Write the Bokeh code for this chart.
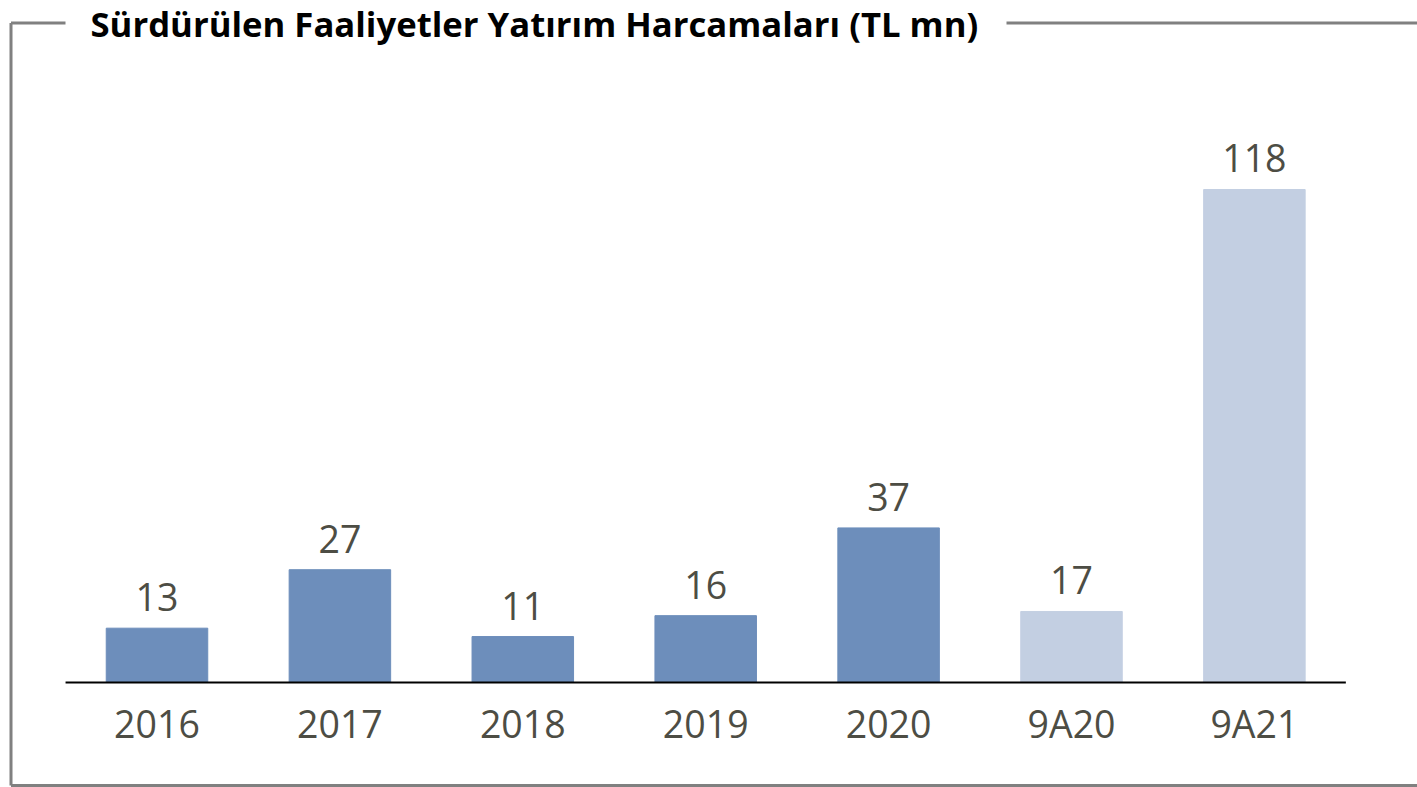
from bokeh.plotting import figure
from bokeh.models import ColumnDataSource, Range1d
from bokeh.core.properties import value
from bokeh.embed import file_html
from bokeh.resources import INLINE

# ---- data ----
categories = ["2016", "2017", "2018", "2019", "2020", "9A20", "9A21"]
capex = [13, 27, 11, 16, 37, 17, 118]
title_text = "Sürdürülen Faaliyetler Yatırım Harcamaları (TL mn)"

DARK = "#6d8ebb"
LIGHT = "#c3cfe2"
BORDER = "#808080"
TEXT = "#4d4d44"
FONT = "Open Sans"

W, H = 1417, 787
# layout: pixels per unit
PX_X = 182.9
PX_Y = 4.178
x0 = (0 - 156.5) / PX_X
x1 = x0 + W / PX_X
y1 = (682 - 0) / PX_Y
y0 = y1 - H / PX_Y

def dx(px):
    return (px - 156.5) / PX_X

def dy(py):
    return (682 - py) / PX_Y

idx = list(range(len(categories)))
src = ColumnDataSource(dict(
    x=idx,
    top=capex,
    cat=categories,
    lbl=[str(v) for v in capex],
    color=[LIGHT if c.startswith("9A") else DARK for c in categories],
    zero=[0] * len(categories),
))

p = figure(width=W, height=H, x_range=Range1d(x0, x1), y_range=Range1d(y0, y1),
           x_axis_type=None, y_axis_type=None, toolbar_location=None,
           output_backend="svg", min_border=0, outline_line_color=None,
           background_fill_color="white", border_fill_color="white")
p.xgrid.visible = False
p.ygrid.visible = False

p.vbar(x="x", top="top", bottom=0, width=0.555, color="color", source=src)

# baseline axis line across categories
p.segment(x0=[-0.5], y0=[0], x1=[len(categories) - 0.5], y1=[0],
          line_color="black", line_width=2)

# value labels
p.text(x="x", y="top", text="lbl", source=src, text_align="center",
       text_baseline="alphabetic", y_offset=-31, text_font=value(FONT),
       text_font_size="37.5px", text_color=TEXT)
# category labels
p.text(x="x", y="zero", text="cat", source=src, text_align="center",
       text_baseline="alphabetic", y_offset=41, text_font=value(FONT),
       text_font_size="37.5px", text_color=TEXT)

# frame border (left, bottom, broken top)
p.segment(x0=[dx(10.5), dx(10.5), dx(10.5), dx(1006)],
          y0=[dy(22.5), dy(785), dy(22.5), dy(22.5)],
          x1=[dx(10.5), x1, dx(65), x1],
          y1=[dy(785), dy(785), dy(22.5), dy(22.5)],
          line_color=BORDER, line_width=3)

# title
p.text(x=[dx(90)], y=[dy(37)], text=[title_text], text_align="left",
       text_baseline="alphabetic", y_offset=-14, text_font=value(FONT),
       text_font_style="bold", text_font_size="34.7px", text_color="black")

open("out.html", "w").write(file_html(p, INLINE))
